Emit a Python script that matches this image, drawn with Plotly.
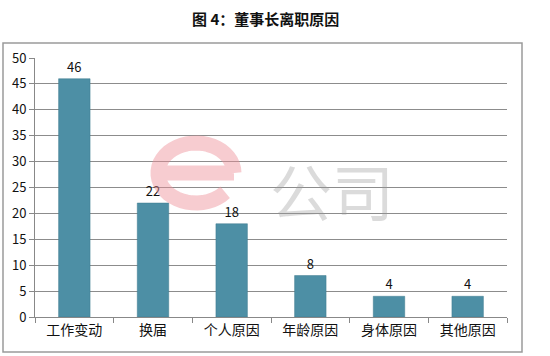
import math
import plotly.graph_objects as go

categories = ["工作变动", "换届", "个人原因", "年龄原因", "身体原因", "其他原因"]
values = [46, 22, 18, 8, 4, 4]
y_ticks = [0, 5, 10, 15, 20, 25, 30, 35, 40, 45, 50]
title_text = "图 4：董事长离职原因"

FONT = "Noto Sans CJK SC, Microsoft YaHei, sans-serif"

fig = go.Figure()
fig.add_trace(go.Bar(
    x=categories, y=values,
    marker=dict(color="#4d8fa5", line=dict(color="#3f7a8e", width=0.5)),
    text=[str(v) for v in values], textposition="outside",
    textfont=dict(family=FONT, size=13, color="#111"),
    cliponaxis=False,
))

L, R, T, B = 35, 43, 58, 39
W, H = 550, 356
pw, ph = W - L - R, H - T - B

def px_x(x):
    return (x - L) / pw

def px_y(y):
    return (H - B - y) / ph

# watermark "e" logo drawn as a stroked path (pixel geometry -> paper)
cx, cy, rx, ry = 196, 173, 38, 30
pts = []
for i in range(0, 41):
    a = math.radians(0 + i * (320 / 40))  # from right-middle, counter-clockwise
    pts.append((cx + rx * math.cos(a), cy - ry * math.sin(a)))
path = "M {:.4f},{:.4f} L {:.4f},{:.4f} ".format(
    px_x(cx - rx), px_y(cy), px_x(cx + rx), px_y(cy))
path += "M {:.4f},{:.4f} ".format(px_x(cx + rx), px_y(cy))
path += " ".join("L {:.4f},{:.4f}".format(px_x(x), px_y(y)) for x, y in pts)

fig.update_layout(
    width=W, height=H,
    margin=dict(l=L, r=R, t=T, b=B, autoexpand=False),
    paper_bgcolor="white", plot_bgcolor="white",
    bargap=0.6, showlegend=False,
    font=dict(family=FONT, color="#222"),
    xaxis=dict(
        type="category", tickson="boundaries", ticks="outside", ticklen=5,
        tickcolor="#888", showline=True, linecolor="#888", linewidth=1,
        showgrid=False, tickfont=dict(size=14, color="#111", family=FONT),
    ),
    yaxis=dict(
        range=[0, 50], tickvals=y_ticks, ticks="outside", ticklen=5,
        tickcolor="#888", showline=True, linecolor="#888", linewidth=1,
        showgrid=True, gridcolor="#8c8c8c", gridwidth=1, zeroline=False,
        tickfont=dict(size=13, color="#111", family=FONT),
    ),
    shapes=[
        dict(type="rect", xref="paper", yref="paper",
             x0=px_x(3), x1=px_x(522), y0=px_y(352), y1=px_y(43),
             line=dict(color="#9a9a9a", width=1.5), fillcolor="rgba(0,0,0,0)",
             layer="above"),
        dict(type="path", xref="paper", yref="paper", path=path,
             line=dict(color="#ef8f98", width=15), opacity=0.45,
             layer="above"),
    ],
    annotations=[
        dict(text="<b>" + title_text + "</b>", xref="paper", yref="paper",
             x=px_x(265), y=px_y(18), xanchor="center", yanchor="middle",
             showarrow=False, font=dict(size=15, color="#111", family=FONT)),
        dict(text="公司", xref="paper", yref="paper", x=px_x(332), y=px_y(190),
             xanchor="center", yanchor="middle",
             showarrow=False, opacity=0.35,
             font=dict(size=62, color="#9a9a9a", family=FONT)),
    ],
)

fig.write_html(
    "out.html",
    config={"displayModeBar": False},
    post_script="document.body.style.margin='0';document.body.style.padding='0';",
)
